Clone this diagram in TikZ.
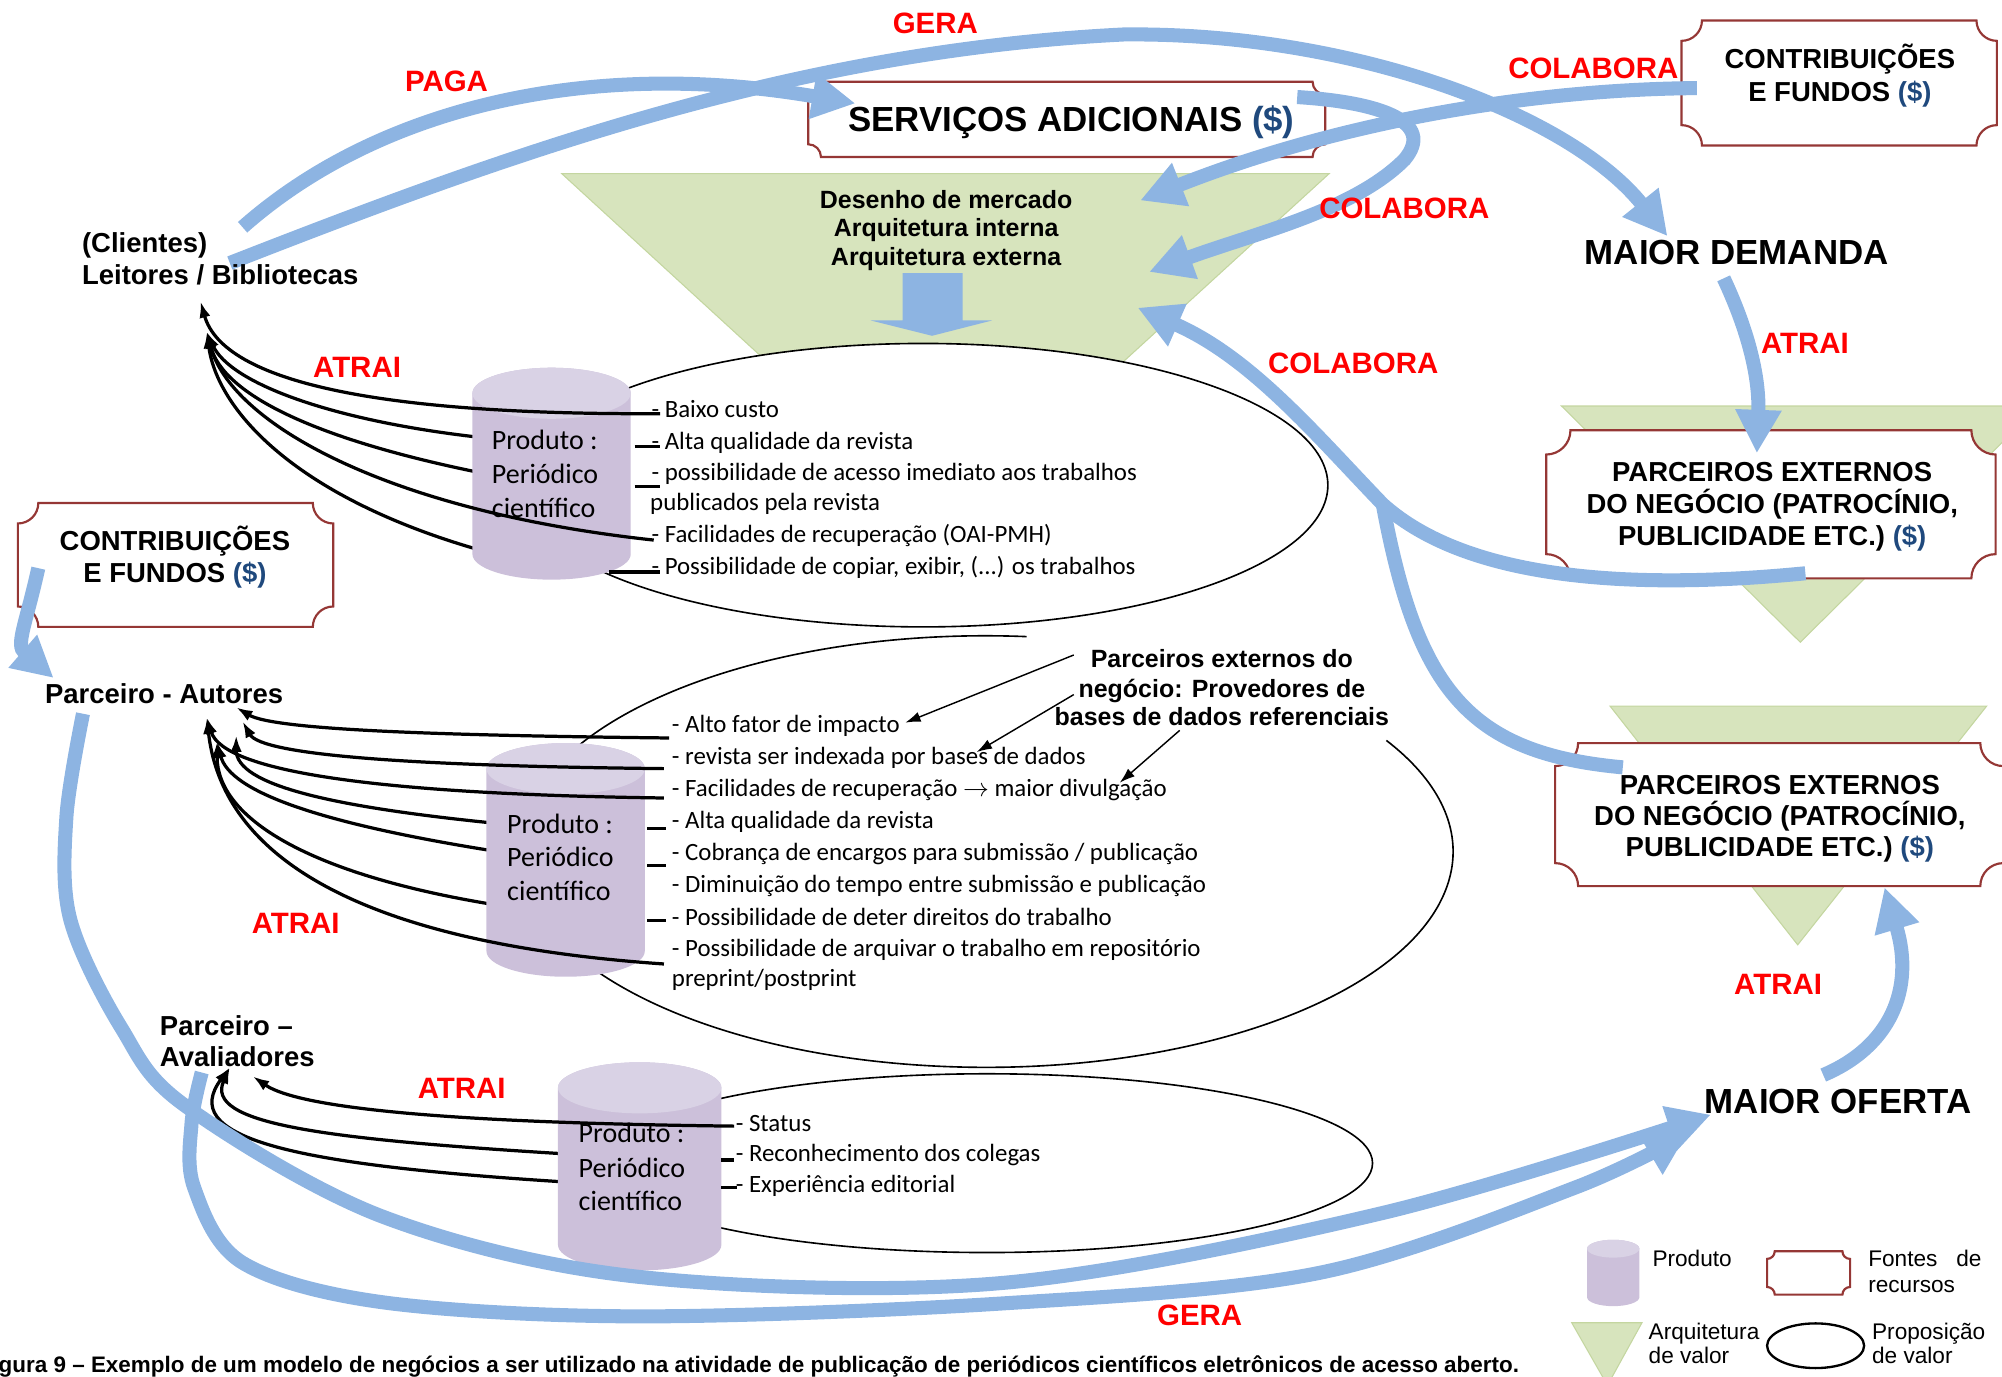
\documentclass[tikz,border=0pt]{standalone}
\usepackage{fontspec}
\setmainfont{Liberation Sans}
\newfontfamily\itemfont{Carlito}
\usetikzlibrary{arrows.meta}

\definecolor{bandblue}{RGB}{141,180,226}
\definecolor{archgreen}{RGB}{215,228,189}
\definecolor{archedge}{RGB}{196,214,160}
\definecolor{plaquered}{RGB}{149,55,53}
\definecolor{cylbody}{RGB}{204,192,218}
\definecolor{cyltop}{RGB}{217,210,229}
\definecolor{dollarblue}{RGB}{31,73,125}
\definecolor{labelred}{RGB}{255,0,0}

\newcommand\fsz[2]{\fontsize{#1}{#2}\selectfont}
\newcommand\dollar{\textcolor{dollarblue}{(\$)}}

% resource box: rectangle with concave quarter-circle corners
\newcommand\plaquebox[5]{%
  \draw[plaque] (#1+#5,#2) -- (#3-#5,#2)
    arc[start angle=180,end angle=90,radius=#5] -- (#3,#4-#5)
    arc[start angle=-90,end angle=-180,radius=#5] -- (#1+#5,#4)
    arc[start angle=0,end angle=-90,radius=#5] -- (#1,#2+#5)
    arc[start angle=90,end angle=0,radius=#5] -- cycle;}

% product cylinder: x1, ytop, x2, ybottom, ry
\newcommand\cylinder[5]{%
  \fill[cylbody] (#1,#2+#5) -- (#1,#4-#5)
    arc[start angle=180,end angle=0,x radius={(#3-#1)/2},y radius=#5]
    -- (#3,#2+#5)
    arc[start angle=0,end angle=-180,x radius={(#3-#1)/2},y radius=#5] -- cycle;
  \fill[cyltop] ({(#1+#3)/2},#2+#5) ellipse[x radius={(#3-#1)/2},y radius=#5];}

\begin{document}
\begin{tikzpicture}[x=0.025cm,y=-0.025cm,
  lbl/.style={inner sep=0pt,anchor=base west},
  clbl/.style={inner sep=0pt,anchor=base},
  redlbl/.style={lbl,text=labelred,font=\bfseries\fsz{16.4}{19}},
  bigtxt/.style={lbl,font=\bfseries\fsz{19.4}{23}},
  boxtxt/.style={clbl,font=\bfseries\fsz{15.3}{18}},
  actor/.style={lbl,font=\bfseries\fsz{15.3}{18}},
  smalltxt/.style={clbl,font=\bfseries\fsz{13.9}{16}},
  item/.style={lbl,font=\itemfont\fsz{13.85}{17}},
  cyltxt/.style={lbl,font=\itemfont\fsz{15.6}{19}},
  legtxt/.style={lbl,font=\fsz{12.6}{15}},
  band/.style={draw=bandblue,line width=0.275cm},
  bandtip/.style={-{Triangle[width=0.85cm,length=0.85cm]}},
  atr/.style={draw=black,line width=1.8pt},
  atrtip/.style={-{Latex[length=0.32cm,width=0.22cm]}},
  thinptr/.style={draw=black,line width=0.8pt,-{Latex[length=0.3cm,width=0.2cm]}},
  prop/.style={draw=black,line width=0.9pt},
  plaque/.style={draw=plaquered,line width=1.2pt,fill=white},
  arch/.style={fill=archgreen,draw=archedge,line width=0.6pt},
]
\useasboundingbox (0,0) rectangle (1568,1078);

% ---------- value architecture (green funnels) ----------
\path[arch] (440,136) -- (1041,136) -- (740,411) -- cycle;
\path[arch] (1223,318) -- (1597,318) -- (1410,503) -- cycle;
\path[arch] (1261,553) -- (1556,553) -- (1408,740) -- cycle;

% ---------- value propositions ----------
\draw[prop,fill=white] (723,380) ellipse[x radius=317,y radius=111];
\draw[prop] (804,498.6) arc[start angle=-85,end angle=-391,x radius=366,y radius=169];
\draw[prop,fill=white] (773,911) ellipse[x radius=302,y radius=70];

% block arrow inside the funnel
\fill[bandblue] (707,214) -- (754,214) -- (754,251) -- (777,251) -- (730,263)
  -- (682,251) -- (707,251) -- cycle;

% ---------- resource boxes ----------
\plaquebox{633}{64}{1038}{123}{10}
\plaquebox{1317}{16}{1564}{114}{16}
\plaquebox{14}{394}{261}{491}{16}
\plaquebox{1211}{337}{1563}{453}{19}
\plaquebox{1218}{582}{1569}{694}{18}

% ---------- connector end points ----------
\coordinate (cliA) at (157,236);
\coordinate (cliB) at (162,260);
\coordinate (g1a) at (517,324);
\coordinate (g1b) at (380,343);
\coordinate (g1c) at (380,371);
\coordinate (g1d) at (512,423);
\coordinate (g1e) at (380,432);
\coordinate (autA) at (185,554);
\coordinate (autB) at (190,565);
\coordinate (autC) at (162,562);
\coordinate (autD) at (185,576);
\coordinate (autE) at (170,581);
\coordinate (g2a) at (524,578);
\coordinate (g2b) at (520,602);
\coordinate (g2c) at (520,625);
\coordinate (g2d) at (390,645);
\coordinate (g2e) at (390,667);
\coordinate (g2f) at (390,709);
\coordinate (g2g) at (520,755);
\coordinate (avA) at (180,836);
\coordinate (avB) at (198,843);
\coordinate (g3a) at (575,882);
\coordinate (g3b) at (447,904);
\coordinate (g3c) at (447,926);

% ---------- attraction links hidden behind the products ----------
\draw[atr,atrtip] (g1b) .. controls (260,330) and (180,300) .. (cliB);
\draw[atr,atrtip] (g1c) .. controls (250,345) and (175,310) .. (cliB);
\draw[atr,atrtip] (g1e) .. controls (230,390) and (170,320) .. (cliB);
\draw[atr,atrtip] (g2d) .. controls (260,632) and (185,615) .. (autD);
\draw[atr,atrtip] (g2e) .. controls (250,645) and (180,620) .. (autE);
\draw[atr,atrtip] (g2f) .. controls (240,685) and (170,640) .. (autE);
\draw[atr,atrtip] (g3b) .. controls (250,892) and (160,880) .. (avA);
\draw[atr,atrtip] (g3c) .. controls (220,912) and (140,890) .. (avA);

% ---------- products ----------
\cylinder{370}{288}{494}{454}{20}
\cylinder{381}{582}{505}{765}{20}
\cylinder{437}{832}{565}{995}{20}

% ---------- attraction links in front ----------
\draw[atr,atrtip] (g1a) .. controls (300,325) and (175,300) .. (cliA);
\draw[atr,atrtip] (g1d) .. controls (300,400) and (180,330) .. (cliB);
\draw[atr,atrtip] (g2a) .. controls (350,576) and (215,572) .. (autA);
\draw[atr,atrtip] (g2b) .. controls (330,600) and (205,592) .. (autB);
\draw[atr,atrtip] (g2c) .. controls (300,622) and (175,605) .. (autC);
\draw[atr,atrtip] (g2g) .. controls (300,740) and (175,680) .. (autC);
\draw[atr,atrtip] (g3a) .. controls (400,880) and (240,872) .. (avB);
% short stubs on the right of the products
\draw[atr] (497,350) -- (517,350);
\draw[atr] (497,381) -- (517,381);
\draw[atr] (477,448) -- (517,448);
\draw[atr] (507,649) -- (522,649);
\draw[atr] (507,678) -- (522,678);
\draw[atr] (507,721) -- (522,721);
\draw[atr] (565,908.5) -- (575,908.5);
\draw[atr] (565,930) -- (577,930);

% ---------- flows (blue bands) ----------
\coordinate (cliP) at (190,178);
\coordinate (cliG) at (180,206);
\coordinate (servW) at (670,81);
\coordinate (servE) at (1016,76);
\coordinate (demN) at (1306,185);
\coordinate (demS) at (1350,218);
\coordinate (conW) at (1329,69);
\coordinate (desA) at (893,157);
\coordinate (desB) at (900,213);
\coordinate (desC) at (891,241);
\coordinate (par1) at (1414,449);
\coordinate (par1N) at (1376,355);
\coordinate (par2) at (1271,601);
\coordinate (par2S) at (1476,695);
\coordinate (ofN) at (1428,842);
\coordinate (ofA) at (1340,873);
\coordinate (ofB) at (1322,887);
\coordinate (autS) at (65,559);
\coordinate (autN) at (42,531);
\coordinate (avS) at (158,840);
\coordinate (conL) at (30,445);

\draw[band,bandtip] (cliP) .. controls (295,85) and (460,45) .. (servW);
\draw[band,bandtip] (cliG) .. controls (400,120) and (620,40) .. (880,27)
  .. controls (1060,25) and (1230,90) .. (demN);
\draw[band,bandtip] (servE) .. controls (1080,80) and (1125,95) .. (1100,125)
  .. controls (1060,165) and (985,182) .. (desB);
\draw[band,bandtip] (conW) .. controls (1200,70) and (1050,95) .. (desA);
\draw[band,bandtip] (par1) .. controls (1280,462) and (1150,455) .. (1083,395)
  .. controls (1030,340) and (980,280) .. (desC);
\draw[band] (par2) .. controls (1150,590) and (1110,540) .. (1083,395);
\draw[band,bandtip] (demS) .. controls (1372,265) and (1378,300) .. (par1N);
\draw[band,bandtip] (ofN) .. controls (1480,820) and (1500,775) .. (par2S);
\draw[band,bandtip] plot[smooth,tension=0.55] coordinates {(autS) (52,640) (55,720)
  (95,805) (145,866) (300,953) (500,1000) (783,1005) (1083,950) (ofA)};
\draw[band,bandtip] plot[smooth,tension=0.55] coordinates {(avS) (150,880) (152,930)
  (190,989) (300,1020) (500,1031) (783,1021) (1033,997) (1234,930) (ofB)};
\draw[band,-{Triangle[width=0.8cm,length=0.8cm]}] (conL) .. controls (20,490) and (12,505) .. (autN);

% ---------- pointers from the database providers ----------
\coordinate (pe1s) at (841,513); \coordinate (pe1t) at (709,566);
\coordinate (pe2s) at (841,544); \coordinate (pe2t) at (765,589);
\coordinate (pe3s) at (924,572); \coordinate (pe3t) at (877,613);
\draw[thinptr] (pe1s) -- (pe1t);
\draw[thinptr] (pe2s) -- (pe2t);
\draw[thinptr] (pe3s) -- (pe3t);

% ---------- texts ----------
\node[bigtxt] (serv) at (664,103) {SERVIÇOS ADICIONAIS \dollar};
\node[boxtxt] (conR1) at (1441,53.6) {CONTRIBUIÇÕES};
\node[boxtxt] (conR2) at (1441,79.6) {E FUNDOS \dollar};
\node[boxtxt] (conL1) at (137,431) {CONTRIBUIÇÕES};
\node[boxtxt] (conL2) at (137,456) {E FUNDOS \dollar};
\node[boxtxt] (pa1a) at (1388,377) {PARCEIROS EXTERNOS};
\node[boxtxt] (pa1b) at (1388,402) {DO NEGÓCIO (PATROCÍNIO,};
\node[boxtxt] (pa1c) at (1388,427) {PUBLICIDADE ETC.) \dollar};
\node[boxtxt] (pa2a) at (1394,622) {PARCEIROS EXTERNOS};
\node[boxtxt] (pa2b) at (1394,646.5) {DO NEGÓCIO (PATROCÍNIO,};
\node[boxtxt] (pa2c) at (1394,671) {PUBLICIDADE ETC.) \dollar};
\node[smalltxt] (des1) at (741,163) {Desenho de mercado};
\node[smalltxt] (des2) at (741,185.5) {Arquitetura interna};
\node[smalltxt] (des3) at (741,207.6) {Arquitetura externa};
\node[smalltxt] (ext1) at (957,523) {Parceiros externos do};
\node[smalltxt] (ext2) at (957,546) {negócio: Provedores de};
\node[smalltxt] (ext3) at (957,568) {bases de dados referenciais};

\node[bigtxt] (demanda) at (1241,207.5) {MAIOR DEMANDA};
\node[bigtxt] (oferta) at (1335,872) {MAIOR OFERTA};

\node[actor] (cli1) at (64,198) {(Clientes)};
\node[actor] (cli2) at (64,223) {Leitores / Bibliotecas};
\node[actor] (aut) at (35,551) {Parceiro - Autores};
\node[actor] (av1) at (125,811) {Parceiro –};
\node[actor] (av2) at (125,835.5) {Avaliadores};

\node[redlbl] (r1) at (699,26) {GERA};
\node[redlbl] (r2) at (317,72) {PAGA};
\node[redlbl] (r3) at (1181,61.5) {COLABORA};
\node[redlbl] (r4) at (1033,171) {COLABORA};
\node[redlbl] (r5) at (993,292.5) {COLABORA};
\node[redlbl] (r6) at (1379,276.6) {ATRAI};
\node[redlbl] (r7) at (245,296) {ATRAI};
\node[redlbl] (r8) at (197,731) {ATRAI};
\node[redlbl] (r9) at (327,860) {ATRAI};
\node[redlbl] (r10) at (1358,779) {ATRAI};
\node[redlbl] (r11) at (906,1038) {GERA};

% product labels
\node[cyltxt] (pA1) at (385,352) {Produto :};
\node[cyltxt] (pA2) at (385,378.5) {Periódico};
\node[cyltxt] (pA3) at (385,405) {científico};
\node[cyltxt] (pB1) at (397,653) {Produto :};
\node[cyltxt] (pB2) at (397,679) {Periódico};
\node[cyltxt] (pB3) at (397,705) {científico};
\node[cyltxt] (pC1) at (453,895) {Produto :};
\node[cyltxt] (pC2) at (453,922) {Periódico};
\node[cyltxt] (pC3) at (453,948) {científico};

% proposition lists
\node[item] (i11) at (510,327) {- Baixo custo};
\node[item] (i12) at (510,352) {- Alta qualidade da revista};
\node[item] (i13) at (510,376) {- possibilidade de acesso imediato aos trabalhos};
\node[item] (i14) at (509,400) {publicados pela revista};
\node[item] (i15) at (510,425) {- Facilidades de recuperação (OAI-PMH)};
\node[item] (i16) at (510,450) {- Possibilidade de copiar, exibir, (...) os trabalhos};

\node[item] (i21) at (526,574) {- Alto fator de impacto};
\node[item] (i22) at (526,599) {- revista ser indexada por bases de dados};
\node[item] (i23) at (526,624) {- Facilidades de recuperação $\rightarrow$ maior divulgação};
\node[item] (i24) at (526,649) {- Alta qualidade da revista};
\node[item] (i25) at (526,674) {- Cobrança de encargos para submissão / publicação};
\node[item] (i26) at (526,699) {- Diminuição do tempo entre submissão e publicação};
\node[item] (i27) at (526,724.5) {- Possibilidade de deter direitos do trabalho};
\node[item] (i28) at (526,749) {- Possibilidade de arquivar o trabalho em repositório};
\node[item] (i29) at (526,773) {preprint/postprint};

\node[item] (i31) at (576,886) {- Status};
\node[item] (i32) at (576,910) {- Reconhecimento dos colegas};
\node[item] (i33) at (576,934) {- Experiência editorial};

% ---------- legend ----------
\cylinder{1243}{971}{1284}{1023}{7}
\node[legtxt] (lg1) at (1294,992) {Produto};
\plaquebox{1384}{980}{1449}{1014}{6}
\node[legtxt] (lg2) at (1463,992) {Fontes\ \ \ de};
\node[legtxt] (lg3) at (1463,1012) {recursos};
\path[arch] (1231,1036) -- (1286,1036) -- (1259,1085) -- cycle;
\node[legtxt] (lg4) at (1291,1049.5) {Arquitetura};
\node[legtxt] (lg5) at (1291,1067.7) {de valor};
\draw[prop,line width=1.3pt] (1422,1054) ellipse[x radius=38,y radius=17.5];
\node[legtxt] (lg6) at (1466,1049.5) {Proposição};
\node[legtxt] (lg7) at (1466,1067.7) {de valor};

% caption
\node[inner sep=0pt,anchor=base east,font=\bfseries\fsz{12.5}{14}] (caption) at (1190,1074.6)
  {Figura 9 – Exemplo de um modelo de negócios a ser utilizado na atividade de publicação de periódicos científicos eletrônicos de acesso aberto.};
\end{tikzpicture}
\end{document}
